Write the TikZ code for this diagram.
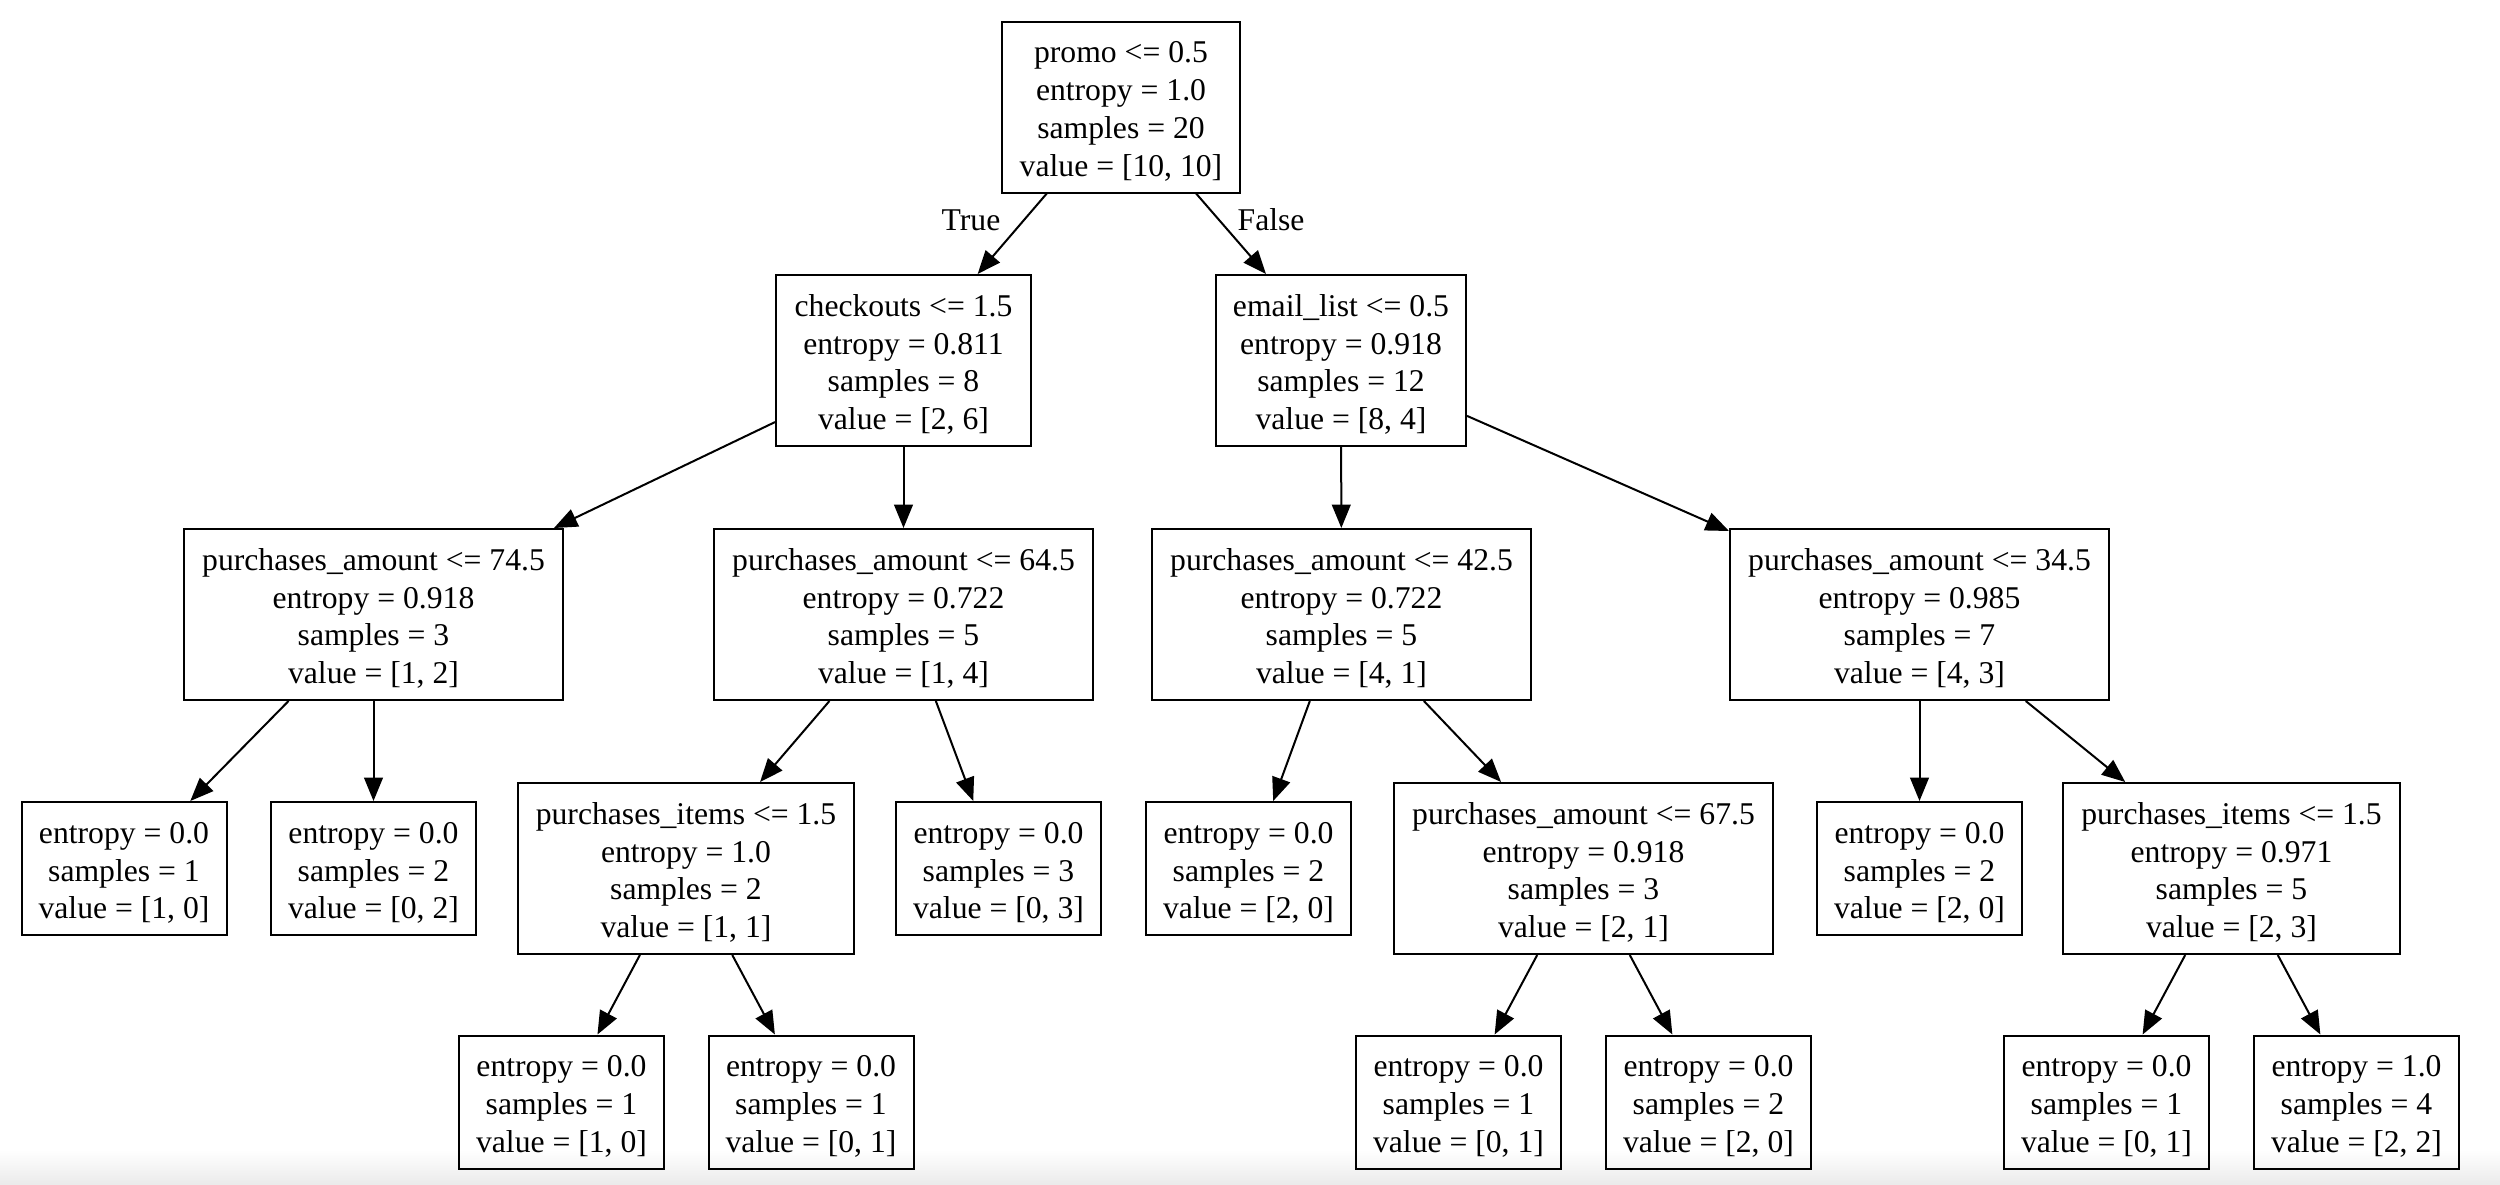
\documentclass[tikz,border=0pt]{standalone}
\usepackage{fontspec}
\setmainfont{Liberation Serif}
\usetikzlibrary{arrows.meta}

% extra headroom above the first text line of each box
\newcommand{\topstrut}{\rule{0pt}{9pt}}

\begin{document}
\begin{tikzpicture}[
  x=0.3pt, y=-0.3pt,
  every node/.style={font=\fontsize{9.5}{11.35}\selectfont, inner sep=0pt},
  tbox/.style={draw=black, line width=0.6pt, align=center,
               minimum width=0.3pt*#1},
  split/.style={tbox=#1, minimum height=51.3pt},
  leafbox/.style={tbox=205, minimum height=39.9pt},
  edge/.style={draw=black, line width=0.6pt,
               -{Triangle[length=7pt,width=5.6pt]}},
  edgelabel/.style={inner sep=0pt}
]
  % page area and the soft grey band along the lower edge
  \path[use as bounding box] (0,0) rectangle (2500,1184);
  \shade[top color=white, bottom color=black!8] (0,1150) rectangle (2500,1184);

  % level 0
  \node[split=238] (root) at (1121,107)
    {\topstrut promo <= 0.5\\entropy = 1.0\\samples = 20\\value = [10, 10]};

  % level 1
  \node[split=255] (chk) at (903.5,360.5)
    {\topstrut checkouts <= 1.5\\entropy = 0.811\\samples = 8\\value = [2, 6]};
  \node[split=250] (eml) at (1341,360.5)
    {\topstrut email\_list <= 0.5\\entropy = 0.918\\samples = 12\\value = [8, 4]};

  % level 2
  \node[split=379] (pa74) at (373.5,614.5)
    {\topstrut purchases\_amount <= 74.5\\entropy = 0.918\\samples = 3\\value = [1, 2]};
  \node[split=379] (pa64) at (903.5,614.5)
    {\topstrut purchases\_amount <= 64.5\\entropy = 0.722\\samples = 5\\value = [1, 4]};
  \node[split=379] (pa42) at (1341.5,614.5)
    {\topstrut purchases\_amount <= 42.5\\entropy = 0.722\\samples = 5\\value = [4, 1]};
  \node[split=379] (pa34) at (1919.5,614.5)
    {\topstrut purchases\_amount <= 34.5\\entropy = 0.985\\samples = 7\\value = [4, 3]};

  % level 3
  \node[leafbox] (la) at (124,868.5)
    {\topstrut entropy = 0.0\\samples = 1\\value = [1, 0]};
  \node[leafbox] (lb) at (373.5,868.5)
    {\topstrut entropy = 0.0\\samples = 2\\value = [0, 2]};
  \node[split=336] (pil) at (686,868.5)
    {\topstrut purchases\_items <= 1.5\\entropy = 1.0\\samples = 2\\value = [1, 1]};
  \node[leafbox] (lc) at (998.5,868.5)
    {\topstrut entropy = 0.0\\samples = 3\\value = [0, 3]};
  \node[leafbox] (ld) at (1248.5,868.5)
    {\topstrut entropy = 0.0\\samples = 2\\value = [2, 0]};
  \node[split=379] (pa67) at (1583.5,868.5)
    {\topstrut purchases\_amount <= 67.5\\entropy = 0.918\\samples = 3\\value = [2, 1]};
  \node[leafbox] (le) at (1919.5,868.5)
    {\topstrut entropy = 0.0\\samples = 2\\value = [2, 0]};
  \node[split=337] (pir) at (2231.5,868.5)
    {\topstrut purchases\_items <= 1.5\\entropy = 0.971\\samples = 5\\value = [2, 3]};

  % level 4
  \node[leafbox] (lf) at (561.5,1102)
    {\topstrut entropy = 0.0\\samples = 1\\value = [1, 0]};
  \node[leafbox] (lg) at (811,1102)
    {\topstrut entropy = 0.0\\samples = 1\\value = [0, 1]};
  \node[leafbox] (lh) at (1458.5,1102)
    {\topstrut entropy = 0.0\\samples = 1\\value = [0, 1]};
  \node[leafbox] (li) at (1708.5,1102)
    {\topstrut entropy = 0.0\\samples = 2\\value = [2, 0]};
  \node[leafbox] (lj) at (2106.5,1102)
    {\topstrut entropy = 0.0\\samples = 1\\value = [0, 1]};
  \node[leafbox] (lk) at (2356.5,1102)
    {\topstrut entropy = 1.0\\samples = 4\\value = [2, 2]};

  % connectors
  \draw[edge] (root) -- (chk);
  \draw[edge] (root) -- (eml);
  \draw[edge] (chk) -- (pa74);
  \draw[edge] (chk) -- (pa64);
  \draw[edge] (eml) -- (pa42);
  \draw[edge] (eml) -- (pa34);
  \draw[edge] (pa74) -- (la);
  \draw[edge] (pa74) -- (lb);
  \draw[edge] (pa64) -- (pil);
  \draw[edge] (pa64) -- (lc);
  \draw[edge] (pa42) -- (ld);
  \draw[edge] (pa42) -- (pa67);
  \draw[edge] (pa34) -- (le);
  \draw[edge] (pa34) -- (pir);
  \draw[edge] (pil) -- (lf);
  \draw[edge] (pil) -- (lg);
  \draw[edge] (pa67) -- (lh);
  \draw[edge] (pa67) -- (li);
  \draw[edge] (pir) -- (lj);
  \draw[edge] (pir) -- (lk);

  % branch labels of the first split
  \node[edgelabel, anchor=base east] (ltrue) at (1001,230) {True};
  \node[edgelabel, anchor=base west] (lfalse) at (1237,230) {False};
\end{tikzpicture}
\end{document}
